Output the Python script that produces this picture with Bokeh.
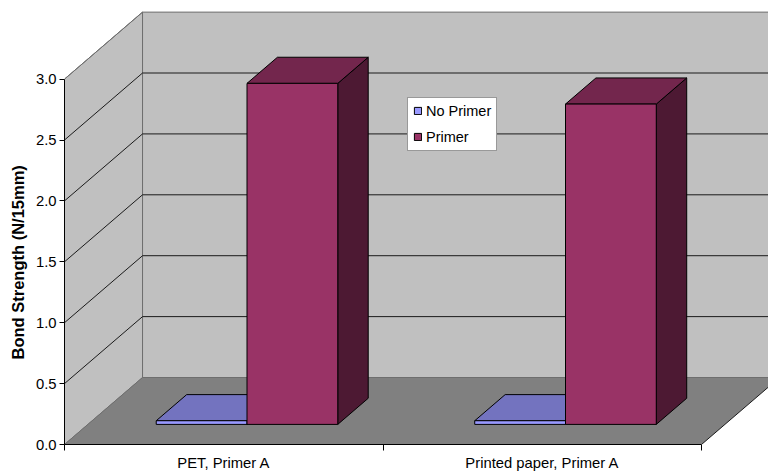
from bokeh.embed import file_html
from bokeh.models import FixedTicker, Legend, LegendItem, Range1d, Title
from bokeh.plotting import figure
from bokeh.resources import INLINE

# Chart data
categories = ["PET, Primer A", "Printed paper, Primer A"]
series_names = ["No Primer", "Primer"]
no_primer = [0.03, 0.03]
primer = [2.80, 2.63]
value_ticks = [0.0, 0.5, 1.0, 1.5, 2.0, 2.5, 3.0]

# Oblique projection: how far the back of the chart box shifts, in axis units
BOX_DX = 0.245
BOX_DY = 0.55
# Bars sit part way into the box and take up part of its depth
BAR_FRONT = 0.30
BAR_DEPTH = 0.39
BAR_WIDTH = 0.285
SLOT_START = 0.288

WALL = "#C0C0C0"
FLOOR = "#808080"
EDGE = "#6E6E6E"
FACES = {
    "No Primer": ("#9999FF", "#7373BF", "#4D4D80"),
    "Primer": ("#993366", "#73264D", "#4D1933"),
}

WIDTH, HEIGHT = 768, 476
LEFT, BOTTOM = 64, 32
PX_PER_CAT = 318.5
PX_PER_VAL = 121.8

p = figure(
    width=WIDTH, height=HEIGHT, output_backend="svg", toolbar_location=None,
    x_range=Range1d(0, (WIDTH - LEFT) / PX_PER_CAT),
    y_range=Range1d(0, (HEIGHT - BOTTOM) / PX_PER_VAL),
    min_border_left=LEFT, min_border_bottom=BOTTOM,
    min_border_top=0, min_border_right=0,
)
p.outline_line_color = None
p.grid.visible = False
p.background_fill_color = "white"

n_cat = len(categories)
top_val = value_ticks[-1]

# Left wall, back wall and floor of the box
p.patch([0, BOX_DX, BOX_DX, 0], [0, BOX_DY, top_val + BOX_DY, top_val],
        fill_color=WALL, line_color=EDGE, line_width=1)
p.patch([BOX_DX, n_cat + BOX_DX, n_cat + BOX_DX, BOX_DX],
        [BOX_DY, BOX_DY, top_val + BOX_DY, top_val + BOX_DY],
        fill_color=WALL, line_color=EDGE, line_width=1)

# Gridlines fold from the left wall across the back wall
for v in value_ticks[1:-1]:
    p.line([0, BOX_DX, n_cat + BOX_DX], [v, v + BOX_DY, v + BOX_DY],
           line_color="#1A1A1A", line_width=1)
p.line([0, BOX_DX], [top_val, top_val + BOX_DY], line_color=EDGE, line_width=1)

p.patch([0, n_cat, n_cat + BOX_DX, BOX_DX], [0, 0, BOX_DY, BOX_DY],
        fill_color=FLOOR, line_color=None)
p.line([BOX_DX, n_cat + BOX_DX], [BOX_DY, BOX_DY], line_color=EDGE, line_width=1)
p.line([0, BOX_DX], [0, BOX_DY], line_color=EDGE, line_width=1)
p.line([n_cat, n_cat + BOX_DX], [0, BOX_DY], line_color="#1A1A1A", line_width=1)


def bar_3d(left, value, name):
    """Draw one extruded bar and return its front face for the legend."""
    front, top, side = FACES[name]
    x0 = left
    x1 = left + BAR_WIDTH
    y0 = BAR_FRONT * BOX_DY
    y1 = y0 + value
    dx = BAR_DEPTH * BOX_DX
    dy = BAR_DEPTH * BOX_DY
    p.patch([x1, x1 + dx, x1 + dx, x1], [y0, y0 + dy, y1 + dy, y1],
            fill_color=side, line_color="black", line_width=1)
    p.patch([x0, x1, x1 + dx, x0 + dx], [y1, y1, y1 + dy, y1 + dy],
            fill_color=top, line_color="black", line_width=1)
    return p.quad(left=[x0], right=[x1], bottom=[y0], top=[y1],
                  fill_color=front, line_color="black", line_width=1)


legend_renderers = {}
for i in range(n_cat):
    start = i + SLOT_START
    legend_renderers["No Primer"] = bar_3d(start, no_primer[i], "No Primer")
    legend_renderers["Primer"] = bar_3d(start + BAR_WIDTH, primer[i], "Primer")

# Value axis
yaxis = p.yaxis[0]
yaxis.ticker = FixedTicker(ticks=value_ticks)
yaxis.bounds = (value_ticks[0], value_ticks[-1])
yaxis.major_label_overrides = {v: f"{v:.1f}" for v in value_ticks}
yaxis.major_label_text_font = "Liberation Sans"
yaxis.major_label_text_font_size = "14.8px"
yaxis.major_label_text_color = "black"
yaxis.major_label_standoff = 3
yaxis.major_tick_in = 0
yaxis.major_tick_out = 5
yaxis.minor_tick_in = 0
yaxis.minor_tick_out = 0
yaxis.axis_line_color = "black"
yaxis.major_tick_line_color = "black"

# The axis title hangs on the 0-3 span, so it is a side title offset from the
# bottom of the frame instead of an axis label centred on the whole frame
p.add_layout(Title(
    text="Bond Strength (N/15mm)", align="left", offset=85, standoff=12,
    text_font="Liberation Sans", text_font_style="bold",
    text_font_size="16.5px", text_color="black",
), "left")

# Category axis: labels centred in each slot, ticks on the slot boundaries
slot_centres = [i + 0.5 for i in range(n_cat)]
slot_edges = [float(i) for i in range(n_cat + 1)]
xaxis = p.xaxis[0]
xaxis.ticker = FixedTicker(ticks=slot_centres, minor_ticks=slot_edges)
xaxis.bounds = (0, n_cat)
xaxis.major_label_overrides = dict(zip(slot_centres, categories))
xaxis.major_label_text_font = "Liberation Sans"
xaxis.major_label_text_font_size = "14.8px"
xaxis.major_label_text_color = "black"
xaxis.major_label_standoff = 4
xaxis.major_tick_in = 0
xaxis.major_tick_out = 0
xaxis.minor_tick_in = 0
xaxis.minor_tick_out = 6
xaxis.axis_line_color = "black"
xaxis.minor_tick_line_color = "black"

legend = Legend(
    items=[LegendItem(label=n, renderers=[legend_renderers[n]]) for n in series_names],
    location=(343, 293), orientation="vertical",
    label_text_font="Liberation Sans", label_text_font_size="14.5px",
    label_text_color="black", label_height=17, label_standoff=4,
    glyph_width=9, glyph_height=9, spacing=9,
    padding=dict(left=5, right=5, top=4, bottom=5), margin=0,
    border_line_color="#333333", border_line_width=1,
    background_fill_color="white", background_fill_alpha=1,
)
p.add_layout(legend, "center")

open("out.html", "w").write(file_html(p, INLINE))
